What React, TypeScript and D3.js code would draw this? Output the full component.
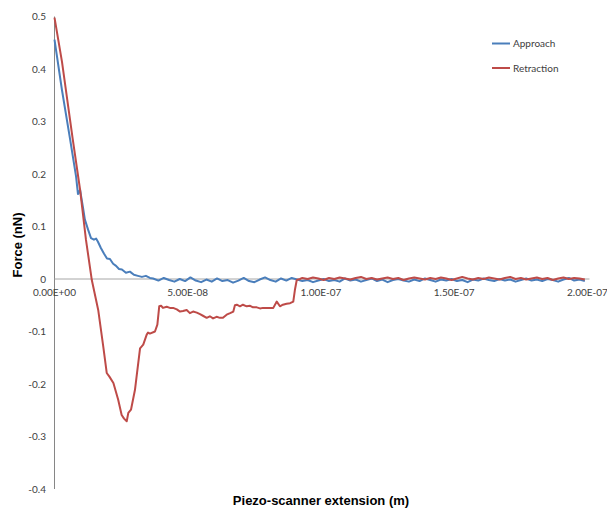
import React, { useRef, useEffect } from 'react';
import * as d3 from 'd3';

// x in nm, force in nN
const approach: [number, number][] = [
  [0, 0.456], [2.8, 0.36], [5.8, 0.268], [8.1, 0.195], [8.8, 0.162], [9.6, 0.17], [9.9, 0.16],
  [10.7, 0.136], [11.4, 0.113], [12.6, 0.094], [13.7, 0.078], [14.8, 0.075], [15.6, 0.077],
  [16.3, 0.071], [17.4, 0.059], [18.6, 0.048], [19.7, 0.039], [20.8, 0.038], [22.0, 0.029],
  [23.1, 0.025], [24.2, 0.019], [25.3, 0.018], [26.8, 0.012], [28.3, 0.014], [29.8, 0.008],
  [31.3, 0.006], [32.8, 0.004], [34.3, 0.006], [35.8, 0.002],
  [37, 0.001], [39, -0.003], [41, 0.002], [43, -0.002], [45, -0.005], [47, 0.0], [49, -0.004],
  [51, 0.003], [53, -0.003], [55, -0.006], [57, -0.001], [59, -0.005], [61, 0.001], [63, -0.004],
  [65, -0.002], [67, -0.007], [69, -0.003], [71, 0.002], [73, -0.004], [75, -0.006], [77, -0.001],
  [79, 0.003], [81, -0.002], [83, -0.005], [85, 0.001], [87, -0.003], [89, 0.002], [91, -0.001],
  [93, -0.004], [95, -0.002], [97, -0.006], [99, -0.003], [101, 0.0], [103, -0.004], [105, -0.002],
  [107, -0.005], [109, 0.001], [111, -0.003], [113, -0.001], [115, -0.005], [117, -0.002],
  [119, 0.001], [121, -0.004], [123, -0.001], [125, -0.006], [127, -0.002], [129, 0.0],
  [131, -0.003], [133, -0.005], [135, -0.001], [137, -0.004], [139, 0.001], [141, -0.002],
  [143, -0.005], [145, -0.001], [147, -0.003], [149, 0.0], [151, -0.004], [153, -0.002],
  [155, -0.006], [157, -0.001], [159, -0.003], [161, 0.001], [163, -0.002], [165, -0.004],
  [167, 0.0], [169, -0.003], [171, -0.001], [173, -0.005], [175, -0.002], [177, 0.001],
  [179, -0.003], [181, -0.001], [183, -0.004], [185, 0.0], [187, -0.002], [189, -0.005],
  [191, -0.001], [193, 0.002], [195, -0.003], [197, -0.001], [199, -0.004],
];

const retraction: [number, number][] = [
  [0, 0.498], [2.8, 0.414], [6.8, 0.268], [9.6, 0.17], [11.8, 0.075], [14.0, -0.002],
  [16.4, -0.059], [18.3, -0.129], [19.6, -0.179], [20.6, -0.186], [22.1, -0.198], [23.9, -0.23],
  [25.2, -0.259], [26.1, -0.266], [27.1, -0.271], [27.7, -0.255], [28.7, -0.249], [30.2, -0.211],
  [30.8, -0.186], [32.1, -0.132], [33.3, -0.125], [34.6, -0.106], [35.1, -0.102], [35.8, -0.104],
  [37.7, -0.1], [38.6, -0.087], [39.3, -0.052], [40.0, -0.051], [40.7, -0.055], [42.1, -0.053],
  [43.3, -0.055], [44.5, -0.055], [45.9, -0.058], [47.1, -0.062], [48.2, -0.061], [49.6, -0.059],
  [50.8, -0.065], [52.0, -0.062], [53.4, -0.064], [54.6, -0.067], [55.7, -0.07], [57.1, -0.074],
  [58.3, -0.071], [59.5, -0.075], [60.8, -0.072], [62.1, -0.074], [63.2, -0.074], [64.6, -0.068],
  [65.9, -0.065], [67.1, -0.062], [67.7, -0.05], [68.4, -0.049], [69.6, -0.052], [70.7, -0.049],
  [72.1, -0.052], [73.4, -0.051], [74.5, -0.054], [75.9, -0.054], [77.1, -0.056], [78.2, -0.055],
  [79.6, -0.055], [80.9, -0.055], [82.1, -0.055], [83.4, -0.043], [84.6, -0.052], [85.7, -0.049],
  [87.1, -0.047], [88.4, -0.046], [89.6, -0.043], [90.2, -0.021], [90.9, -0.002], [92.1, 0.0],
  [93, 0.002], [95, 0.0], [97, 0.003], [99, 0.001], [101, -0.002], [103, 0.002], [105, 0.0],
  [107, 0.003], [109, 0.001], [111, -0.001], [113, 0.002], [115, 0.004], [117, 0.0], [119, 0.002],
  [121, -0.001], [123, 0.001], [125, 0.003], [127, 0.0], [129, 0.002], [131, -0.002], [133, 0.001],
  [135, 0.003], [137, 0.001], [139, -0.001], [141, 0.002], [143, 0.0], [145, 0.003], [147, 0.001],
  [149, -0.002], [151, 0.001], [153, 0.004], [155, 0.001], [157, -0.001], [159, 0.002], [161, 0.0],
  [163, 0.003], [165, 0.001], [167, -0.001], [169, 0.002], [171, 0.004], [173, 0.0], [175, 0.002],
  [177, -0.001], [179, 0.001], [181, 0.003], [183, 0.0], [185, 0.002], [187, -0.002], [189, 0.001],
  [191, 0.003], [193, 0.0], [195, 0.002], [197, 0.001], [199, -0.001],
];

const xTicks = [0, 50e-9, 100e-9, 150e-9, 200e-9];
const xTickLabels = ['0.00E+00', '5.00E-08', '1.00E-07', '1.50E-07', '2.00E-07'];
const yTicks = [-0.4, -0.3, -0.2, -0.1, 0, 0.1, 0.2, 0.3, 0.4, 0.5];
const yTickLabels = ['-0.4', '-0.3', '-0.2', '-0.1', '0', '0.1', '0.2', '0.3', '0.4', '0.5'];

const seriesNames = ['Approach', 'Retraction'];
const seriesColors = ['#4a7ebb', '#be4b48'];

const W = 607;
const H = 511;

const App = () => {
  const ref = useRef<SVGSVGElement>(null);

  useEffect(() => {
    const svg = d3.select(ref.current);
    svg.selectAll('*').remove();

    const x = d3.scaleLinear().domain([0, 200e-9]).range([54.5, 587.5]);
    const y = d3.scaleLinear().domain([-0.4, 0.5]).range([489, 16.5]);
    const labelFont = 'Lato, "Open Sans", sans-serif';

    // axes
    svg.append('line')
      .attr('x1', x(0)).attr('x2', x(0))
      .attr('y1', y(0.5)).attr('y2', y(-0.4))
      .attr('stroke', '#868686').attr('stroke-width', 1);
    svg.append('line')
      .attr('x1', x(0)).attr('x2', x(200e-9) + 2)
      .attr('y1', y(0)).attr('y2', y(0))
      .attr('stroke', '#a6a6a6').attr('stroke-width', 1);

    // y tick labels
    svg.append('g').selectAll('text')
      .data(yTicks)
      .join('text')
      .attr('x', 46)
      .attr('y', d => y(d))
      .attr('dy', '0.35em')
      .attr('text-anchor', 'end')
      .attr('font-family', labelFont)
      .attr('font-size', 10)
      .attr('fill', '#404040')
      .text((d, i) => yTickLabels[i]);

    // x tick labels
    svg.append('g').selectAll('text')
      .data(xTicks)
      .join('text')
      .attr('x', d => x(d))
      .attr('y', y(0) + 17)
      .attr('text-anchor', 'middle')
      .attr('font-family', labelFont)
      .attr('font-size', 10)
      .attr('fill', '#404040')
      .text((d, i) => xTickLabels[i]);

    // lines
    const line = d3.line<[number, number]>()
      .x(d => x(d[0] * 1e-9))
      .y(d => y(d[1]));

    [approach, retraction].forEach((s, i) => {
      svg.append('path')
        .datum(s)
        .attr('d', line)
        .attr('fill', 'none')
        .attr('stroke', seriesColors[i])
        .attr('stroke-width', 2)
        .attr('stroke-linejoin', 'round');
    });

    // legend
    seriesNames.forEach((name, i) => {
      const ly = 43.5 + i * 24.5;
      svg.append('line')
        .attr('x1', 492).attr('x2', 510)
        .attr('y1', ly).attr('y2', ly)
        .attr('stroke', seriesColors[i]).attr('stroke-width', 2);
      svg.append('text')
        .attr('x', 513).attr('y', ly)
        .attr('dy', '0.35em')
        .attr('font-family', labelFont)
        .attr('font-size', 10)
        .attr('fill', '#404040')
        .text(name);
    });

    // axis titles
    svg.append('text')
      .attr('transform', 'translate(22,245) rotate(-90)')
      .attr('text-anchor', 'middle')
      .attr('font-family', '"Liberation Sans", Arial, sans-serif')
      .attr('font-weight', 'bold')
      .attr('font-size', 13)
      .attr('fill', '#000')
      .text('Force (nN)');
    svg.append('text')
      .attr('x', 321).attr('y', 505)
      .attr('text-anchor', 'middle')
      .attr('font-family', '"Liberation Sans", Arial, sans-serif')
      .attr('font-weight', 'bold')
      .attr('font-size', 13)
      .attr('fill', '#000')
      .text('Piezo-scanner extension (m)');
  }, []);

  return (
    <svg
      ref={ref}
      width={W}
      height={H}
      style={{ position: 'absolute', left: 0, top: 0, background: '#fff' }}
    />
  );
};

export default App;
